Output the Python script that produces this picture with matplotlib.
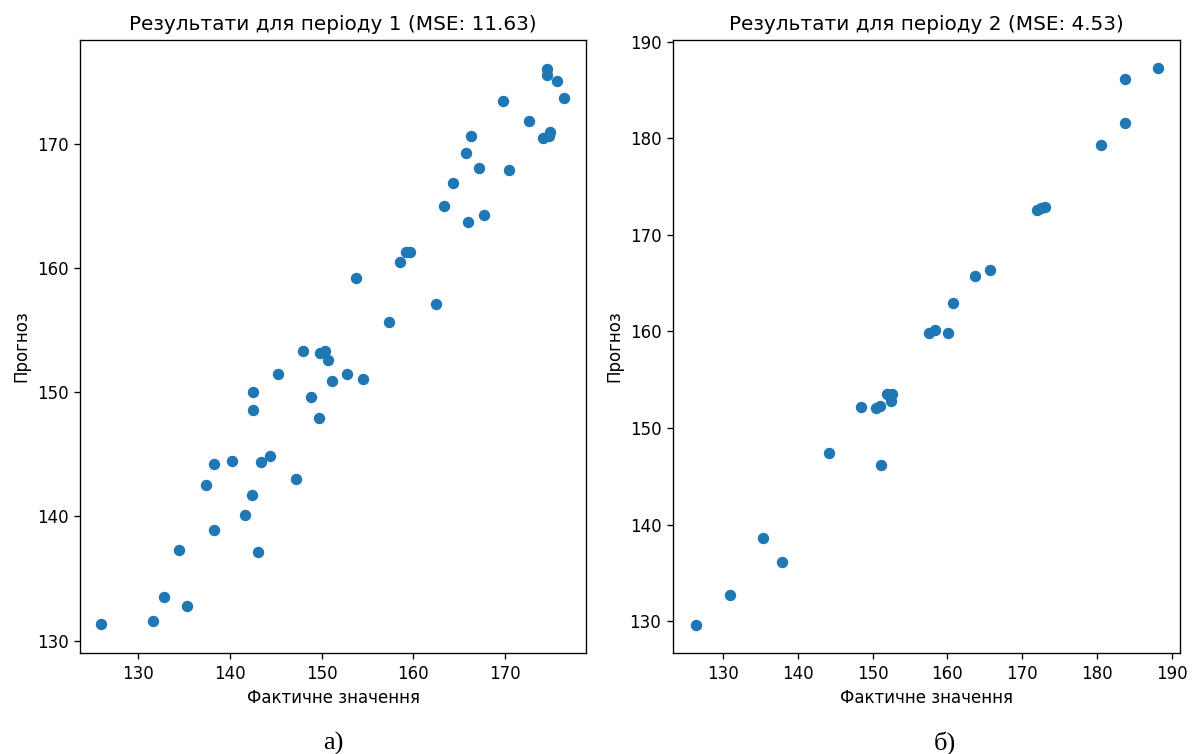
import matplotlib
matplotlib.use("Agg")
from matplotlib import pyplot as plt

# period 1: actual vs forecast
actual_1 = [174.6, 174.6, 175.6, 176.4, 169.8, 172.6, 174.9, 174.1, 174.75,
            166.3, 165.7, 167.2, 170.4, 164.3, 163.3, 165.9, 167.7, 159.6,
            159.2, 158.5, 153.8, 162.5, 157.4,
            148.0, 149.8, 150.4, 150.7, 151.1, 145.3, 142.5, 142.5, 148.8,
            149.7, 144.4, 140.3, 143.4, 138.3, 137.4, 147.2, 142.4, 141.7,
            138.3, 134.5, 143.1, 132.8, 135.4, 131.6, 126.0, 152.8, 154.5]
pred_1 = [176.1, 175.6, 175.1, 173.7, 173.5, 171.9, 171.0, 170.5, 170.7,
          170.7, 169.3, 168.1, 167.9, 166.9, 165.0, 163.7, 164.3, 161.3,
          161.3, 160.5, 159.2, 157.1, 155.7,
          153.3, 153.2, 153.3, 152.6, 150.9, 151.5, 150.0, 148.6, 149.6,
          147.9, 144.9, 144.5, 144.4, 144.2, 142.5, 143.0, 141.7, 140.1,
          138.9, 137.3, 137.1, 133.5, 132.8, 131.6, 131.3, 151.5, 151.1]

# period 2
actual_2 = [188.1, 183.8, 183.7, 180.6, 172.0, 172.5, 173.0, 163.7, 165.7,
            160.8, 157.6, 158.3, 160.1, 151.9, 152.6, 152.5, 148.5, 150.5,
            151.0, 144.2, 151.1, 135.3, 137.9, 130.9, 126.4]
pred_2 = [187.3, 186.2, 181.6, 179.3, 172.6, 172.8, 172.9, 165.7, 166.4,
          163.0, 159.8, 160.2, 159.8, 153.5, 153.5, 152.8, 152.2, 152.1,
          152.3, 147.4, 146.2, 138.6, 136.1, 132.7, 129.6]

mse_1 = 11.63
mse_2 = 4.53

# original looks like a 120 dpi render, so scale defaults by 1.2
k = 1.2
plt.rcParams.update({
    'font.size': 10 * k,
    'axes.titlesize': 12 * k,
    'axes.titlepad': 6 * k,
    'axes.labelpad': 4 * k,
    'axes.linewidth': 0.8 * k,
    'xtick.major.size': 3.5 * k,
    'ytick.major.size': 3.5 * k,
    'xtick.major.width': 0.8 * k,
    'ytick.major.width': 0.8 * k,
    'xtick.major.pad': 3.5 * k,
    'ytick.major.pad': 3.5 * k,
})

fig = plt.figure(figsize=(11.93, 7.54), dpi=100)
ax1 = fig.add_axes([0.0671, 0.134, 0.4241, 0.813])
ax2 = fig.add_axes([0.5641, 0.134, 0.425, 0.813])

ax1.scatter(actual_1, pred_1, s=36 * k * k, color="#1f77b4")
ax1.set_xlim(123.7, 178.8)
ax1.set_ylim(129.0, 178.4)
ax1.set_xticks([130, 140, 150, 160, 170])
ax1.set_yticks([130, 140, 150, 160, 170])
ax1.set_xlabel("Фактичне значення")
ax1.set_ylabel("Прогноз")
ax1.set_title(f"Результати для періоду 1 (MSE: {mse_1:.2f})")

ax2.scatter(actual_2, pred_2, s=36 * k * k, color="#1f77b4")
ax2.set_xlim(123.3, 191.1)
ax2.set_ylim(126.7, 190.2)
ax2.set_xticks([130, 140, 150, 160, 170, 180, 190])
ax2.set_yticks([130, 140, 150, 160, 170, 180, 190])
ax2.set_xlabel("Фактичне значення")
ax2.set_ylabel("Прогноз")
ax2.set_title(f"Результати для періоду 2 (MSE: {mse_2:.2f})")

fig.text(0.279, 0.006, "а)", family="Liberation Serif", fontsize=19, ha="center")
fig.text(0.792, 0.006, "б)", family="Liberation Serif", fontsize=19, ha="center")

fig.savefig("out.png", dpi=100)
